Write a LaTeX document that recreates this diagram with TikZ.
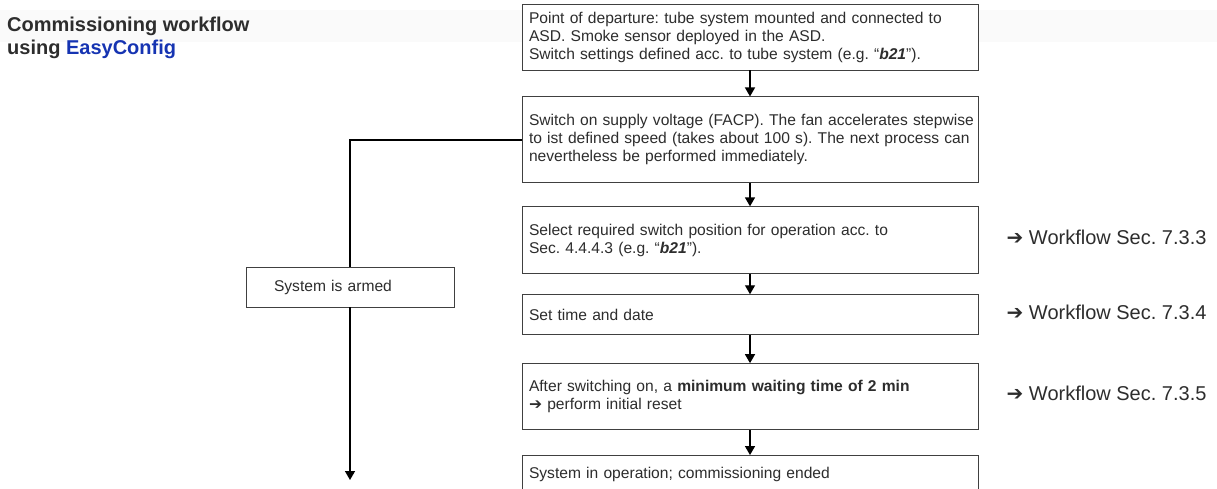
\documentclass[tikz,border=0pt]{standalone}
\usepackage{fontspec}
\setmainfont{Liberation Sans}
\newfontfamily\symfont{DejaVu Sans}
\usepackage{tikz}
\usetikzlibrary{arrows.meta, positioning}
\definecolor{easyblue}{RGB}{22,52,178}
\definecolor{inkgray}{RGB}{45,45,45}
\newcommand{\fwd}{{\symfont ➔}}
\frenchspacing
\hyphenpenalty=10000

\begin{document}
\begin{tikzpicture}[
		x=1pt, y=-1pt,
		node distance=25pt,
		flowbox/.style={rectangle, draw=black!75, fill=white, line width=0.9pt, text width=442pt, inner xsep=7pt, inner ysep=0pt, align=left, text=inkgray, font=\fontsize{15.6}{18}\selectfont},
		armedbox/.style={flowbox, text width=152pt, inner xsep=28pt, minimum height=40pt},
		note/.style={text=inkgray, inner sep=0pt, font=\fontsize{20}{24}\selectfont},
		heading/.style={align=left, text=inkgray, inner sep=0pt, font=\fontsize{20}{23}\selectfont\bfseries},
		arrow/.style={-{Triangle[width=10pt, length=9pt]}, line width=1.4pt}
	]
	\useasboundingbox (0,0) rectangle (1217,488);

	% 1. Judul dan pita latar tipis
	\fill[black!2] (0,10) rectangle (1217,42);
	\node[heading, anchor=north west] (title) at (7,17) {Commissioning workflow\\using \textcolor{easyblue}{EasyConfig}};

	% 2. Kotak alur utama, tersusun ke bawah
	\node[flowbox, minimum height=66pt] (depart) at (750,37) {Point of departure: tube system mounted and connected to\\ASD. Smoke sensor deployed in the ASD.\\Switch settings defined acc. to tube system (e.g. “\textbf{\textit{b21}}”).};
	\node[flowbox, minimum height=86pt, below=26pt of depart] (power) {\mbox{Switch on supply voltage (FACP). The fan accelerates stepwise}\\to ist defined speed (takes about 100 s). The next process can\\nevertheless be performed immediately.};
	\node[flowbox, minimum height=67pt, below=23pt of power] (select) {Select required switch position for operation acc. to\\Sec. 4.4.4.3 (e.g. “\textbf{\textit{b21}}”).};
	\node[flowbox, minimum height=40pt, below=20pt of select] (clock) {Set time and date};
	\node[flowbox, minimum height=66pt, below=28pt of clock] (wait) {After switching on, a \textbf{minimum waiting time of 2 min}\\\fwd{} perform initial reset};
	\node[flowbox, minimum height=38pt, below=25pt of wait] (running) {System in operation; commissioning ended};

	% 3. Rujukan di sebelah kanan
	\node[note, right=28pt of select, yshift=3pt] (ref733) {\fwd{} Workflow Sec. 7.3.3};
	\node[note, right=28pt of clock, yshift=2pt] (ref734) {\fwd{} Workflow Sec. 7.3.4};
	\node[note, right=28pt of wait, yshift=3pt] (ref735) {\fwd{} Workflow Sec. 7.3.5};

	% 4. Cabang kiri: sistem aktif
	\node[armedbox] (armed) at (350,287) {System is armed};
	\coordinate (armedend) at (350,480);

	% 5. Panah penghubung
	\draw[arrow] (depart.south) -- (power.north);
	\draw[arrow] (power.south) -- (select.north);
	\draw[arrow] (select.south) -- (clock.north);
	\draw[arrow] (clock.south) -- (wait.north);
	\draw[arrow] (wait.south) -- (running.north);
	\draw[line width=1.4pt] (power.west) -| (armed.north);
	\draw[arrow] (armed.south) -- (armedend);

\end{tikzpicture}
\end{document}
